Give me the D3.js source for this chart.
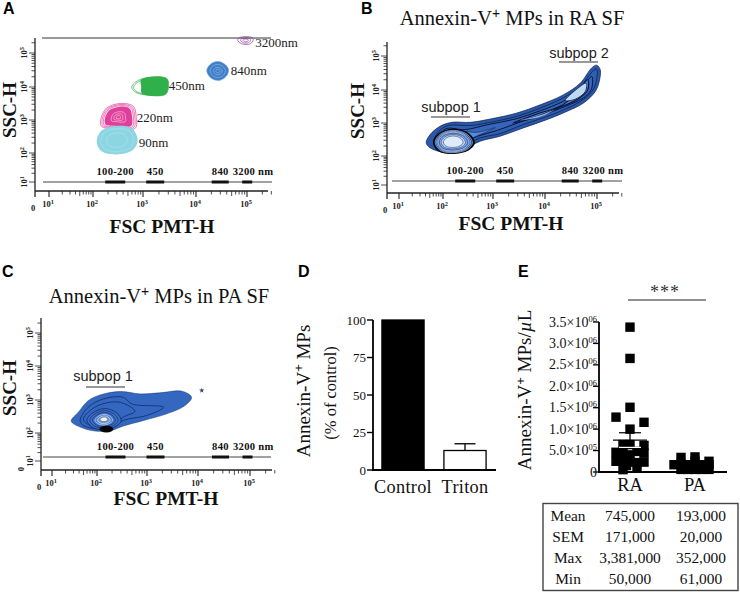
<!DOCTYPE html>
<html><head><meta charset="utf-8">
<script src="https://cdn.jsdelivr.net/npm/d3@7/dist/d3.min.js"></script>
<style>html,body{margin:0;padding:0;background:#fff}svg{display:block}</style>
</head><body><svg id="c" width="740" height="592"></svg>
<script>
// ---------- data ----------
const decades = [10, 100, 1000, 10000, 100000];
const sizeBands = [
  {label:"100-200", from:2.25, to:2.65},
  {label:"450", from:3.07, to:3.43},
  {label:"840", from:4.38, to:4.72},
  {label:"3200 nm", from:4.99, to:5.19}
];
const beads90 = [[2.08,2.35],[2.18,2.68],[2.45,2.82],[2.78,2.75],[2.90,2.40],[2.81,2.10],[2.48,1.95],[2.18,2.05]];
const beads220 = [[2.16,3.0],[2.27,3.35],[2.55,3.5],[2.81,3.42],[2.87,3.1],[2.85,2.75],[2.41,2.75],[2.18,2.8]];
const beads450 = [[2.78,4.0],[2.95,4.22],[3.48,4.25],[3.51,3.95],[3.45,3.77],[3.01,3.77],[2.85,3.85]];
const beads840 = [[4.28,4.48],[4.38,4.70],[4.55,4.74],[4.71,4.55],[4.69,4.35],[4.55,4.2],[4.38,4.25]];
const beads3200 = [[4.90,5.38],[4.95,5.46],[5.18,5.46],[5.21,5.38],[5.15,5.27],[4.98,5.27]];
const beadLabels = [
  {t:"3200nm",x:5.25,y:5.17},{t:"840nm",x:4.76,y:4.35},{t:"450nm",x:3.52,y:3.92},
  {t:"220nm",x:2.88,y:2.93},{t:"90nm",x:2.92,y:2.19}
];
const raOuter = [[1.62,2.40],[1.71,2.65],[1.94,2.90],[2.18,3.02],[2.55,3.02],[2.95,3.12],[3.48,3.30],[3.95,3.55],[4.41,3.85],[4.75,4.20],[4.98,4.65],[5.08,4.73],[5.15,4.60],[5.13,4.25],[5.05,3.95],[4.81,3.60],[4.48,3.35],[4.08,3.10],[3.61,2.85],[3.15,2.60],[2.75,2.45],[2.41,2.20],[2.01,2.12],[1.71,2.25]];
const raLevel2 = [[1.80,2.45],[1.90,2.72],[2.10,2.92],[2.55,2.92],[2.95,3.02],[3.48,3.2],[3.95,3.45],[4.40,3.75],[4.75,4.1],[5.0,4.55],[5.08,4.62],[5.07,4.25],[4.98,3.95],[4.75,3.65],[4.45,3.42],[4.05,3.18],[3.6,2.95],[3.15,2.68],[2.75,2.55],[2.4,2.3],[2.0,2.2]];
const raLevel3 = [[1.90,2.48],[2.05,2.82],[2.45,2.80],[2.9,2.95],[3.45,3.12],[3.95,3.37],[4.40,3.65],[4.75,4.0],[4.98,4.4],[4.98,4.05],[4.85,3.8],[4.45,3.5],[4.0,3.25],[3.55,3.03],[3.1,2.78],[2.7,2.6],[2.35,2.38],[2.0,2.25]];
const raTail = [[2.3,2.72],[2.7,2.72],[3.05,2.86],[2.7,2.62],[2.35,2.42]];
const raMid = [[3.4,3.0],[3.9,3.28],[4.4,3.55],[4.7,3.95],[4.9,4.3],[4.9,4.0],[4.7,3.72],[4.3,3.45],[3.8,3.15]];
const raUpper = [[4.45,3.68],[4.7,4.05],[4.87,4.2],[4.85,3.95],[4.65,3.72]];
const raMidLight = [[3.55,3.08],[3.95,3.24],[4.25,3.42],[3.95,3.18]];
const raCore = [[1.80,2.42],[1.93,2.68],[2.2,2.80],[2.5,2.68],[2.62,2.40],[2.5,2.18],[2.2,2.08],[1.92,2.16]];
const paOuter = [[1.43,2.36],[1.59,2.63],[1.81,2.98],[2.07,3.15],[2.46,3.25],[2.85,3.18],[3.24,3.21],[3.67,3.26],[3.86,3.08],[3.73,2.83],[3.37,2.58],[2.92,2.38],[2.52,2.21],[2.29,2.08],[1.96,2.06],[1.63,2.18]];
const paLevel2 = [[1.63,2.38],[1.81,2.78],[2.13,3.03],[2.52,3.08],[2.69,2.88],[3.31,2.78],[2.98,2.53],[2.52,2.38],[2.33,2.18],[2.0,2.13],[1.7,2.23]];
const paLevel3 = [[1.7,2.4],[1.9,2.73],[2.16,2.9],[2.46,2.93],[2.75,2.66],[2.52,2.48],[2.33,2.21],[2.0,2.16]];
const paCore = [[1.78,2.38],[1.9,2.6],[2.16,2.74],[2.4,2.6],[2.48,2.36],[2.35,2.18],[2.16,2.1],[1.92,2.16]];
const raRingScales = [0.94, 0.86, 0.78, 0.7, 0.6, 0.48];
const raRingFills = ["#1d3f86","#3566bb","#5d8ed6","#8db2e6","#b9d3f2","#deebf9"];

const barCategories = ["Control","Triton"];
const barValues = [100, 13];
const barErrors = [0, 4.5];
const barTicks = [0,25,50,75,100];

const dotCategories = ["RA","PA"];
const raValues = [3380000,2650000,1510000,1280000,1160000,1000000,620000,440000,230000,640000,640000,460000,440000,480000,250000,250000,230000,220000,55000,90000,400000,300000,150000];
const raSlots  = [0,0,0,-2,2,0,2,2,2,-1,0,-2,-1,1,-2,-1,0,1,-1,1,0,-1.5,-0.5];
const paValues = [340000,352000,250000,190000,170000,250000,170000,170000,170000,61000,61000,61000,61000,61000,130000,130000];
const paSlots  = [-2,0,2,-2,-1,0,1,2,-3,-2,-1,0,1,2,-0.7,0.8];
const dotStats = {RA:{mean:745000,sem:171000},PA:{mean:193000,sem:20000}};
const dotTicks = [0,500000,1000000,1500000,2000000,2500000,3000000,3500000];
const dotTickLabels = ["0","5.0×10","1.0×10","1.5×10","2.0×10","2.5×10","3.0×10","3.5×10"];
const dotTickExp = ["","05","06","06","06","06","06","06"];

const tableRows = [
  ["Mean","745,000","193,000"],
  ["SEM","171,000","20,000"],
  ["Max","3,381,000","352,000"],
  ["Min","50,000","61,000"]
];

// ---------- helpers ----------
const svg = d3.select("#c");
const serif = "'Liberation Serif','Times New Roman',serif";
const sans = "'Liberation Sans',Arial,sans-serif";
function txt(g,x,y,s,size,o={}){
  return g.append("text").attr("x",x).attr("y",y).text(s)
    .attr("font-family",o.family||serif).attr("font-size",size)
    .attr("font-weight",o.weight||"normal").attr("text-anchor",o.anchor||"start")
    .attr("fill",o.fill||"#111").attr("letter-spacing",o.ls||null);
}
function pow10Label(g,x,y,exp,size,rot){
  const t=g.append("text").attr("font-family",serif).attr("font-size",size).attr("fill","#222")
    .attr("font-weight","bold").attr("text-anchor","middle")
    .attr("transform",`translate(${x},${y})`+(rot?" rotate(-90)":""));
  t.append("tspan").text("10");
  t.append("tspan").text(exp).attr("font-size",size*0.75).attr("dy",-size*0.4);
}
function titleSup(g,x,y,size,a,b){
  const t=g.append("text").attr("x",x).attr("y",y).attr("font-family",serif).attr("font-size",size)
    .attr("text-anchor","middle").attr("fill","#111");
  t.append("tspan").text(a);
  t.append("tspan").text("+").attr("font-size",size*0.68).attr("dy",-size*0.36).attr("font-family",sans);
  t.append("tspan").text(b).attr("dy",size*0.36);
  return t;
}
function flowPanel(cfg){
  const g=svg.append("g");
  const x=d3.scaleLog().domain(decades).range(cfg.xr);
  const y=d3.scaleLog().domain(decades).range(cfg.yr);
  const px=d3.scaleLinear().domain([1,2,5]).range(cfg.cr);
  const bx=d3.scaleLinear().domain([2,5]).range(cfg.br);
  const py=v=>y(Math.pow(10,v));
  const line=d3.line().x(d=>px(d[0])).y(d=>py(d[1])).curve(d3.curveCatmullRomClosed.alpha(0.5));
  const blob=(pts,fill,stroke,sw)=>g.append("path").attr("d",line(pts)).attr("fill",fill)
    .attr("stroke",stroke||"none").attr("stroke-width",sw||0.7);
  const scaled=(pts,k)=>{const cx=d3.mean(pts,d=>d[0]),cy=d3.mean(pts,d=>d[1]);
    return pts.map(d=>[cx+(d[0]-cx)*k,cy+(d[1]-cy)*k]);};
  cfg.draw({g,px,py,blob,scaled});
  // axes
  const ax=g.append("g").attr("stroke","#222").attr("fill","none");
  ax.append("line").attr("x1",cfg.ox).attr("x2",cfg.ox).attr("y1",cfg.top).attr("y2",cfg.oy).attr("stroke-width",1.3);
  ax.append("line").attr("x1",cfg.ox).attr("x2",cfg.right).attr("y1",cfg.oy).attr("y2",cfg.oy).attr("stroke-width",1.3);
  ax.append("line").attr("x1",cfg.ox).attr("x2",cfg.ox).attr("y1",cfg.oy).attr("y2",cfg.oy+6).attr("stroke-width",1.3);
  decades.forEach(d=>{
    [1,2,3,4,5,6,7,8,9].forEach(m=>{
      const v=d*m; if(v>300000) return;
      const xp=x(v);
      ax.append("line").attr("x1",xp).attr("x2",xp).attr("y1",cfg.oy).attr("y2",cfg.oy+(m==1?6:(m==5?5:3.5))).attr("stroke-width",m==1?1.1:0.8);
      if(v<=200000){const yp=y(v);
        if(yp>cfg.top+1) ax.append("line").attr("x1",cfg.ox).attr("x2",cfg.ox-(m==1?6:3.5)).attr("y1",yp).attr("y2",yp).attr("stroke-width",0.8);}
    });
    const e=Math.round(Math.log10(d));
    pow10Label(g,x(d)-1,cfg.oy+16,e,8.5,false);
    pow10Label(g,cfg.ox-8,y(d),e,8.5,true);
  });
  txt(g,cfg.ox-2,cfg.oy+20,"0",8.5,{weight:"bold",anchor:"middle",fill:"#222"});
  if(cfg.zeroY){txt(g,0,0,"0",8.5,{weight:"bold",anchor:"middle",fill:"#222"}).attr("transform",`translate(${cfg.ox-17},${cfg.oy-1}) rotate(-90)`);}
  // reference line with size bands
  g.append("line").attr("x1",cfg.refX[0]).attr("x2",cfg.refX[1]).attr("y1",cfg.refY).attr("y2",cfg.refY).attr("stroke","#444").attr("stroke-width",1);
  sizeBands.forEach((b,i)=>{
    g.append("rect").attr("x",bx(b.from)).attr("width",bx(b.to)-bx(b.from)).attr("y",cfg.refY-1.5).attr("height",3).attr("fill","#111");
    const mid=(bx(b.from)+bx(b.to))/2;
    if(i==3) txt(g,mid-14.5,cfg.refY-7,b.label,10.6,{weight:"bold",ls:0.3});
    else txt(g,mid,cfg.refY-7,b.label,10.6,{weight:"bold",anchor:"middle",ls:0.3});
  });
  txt(g,cfg.xTitle[0],cfg.xTitle[1],"FSC PMT-H",19.5,{weight:"bold",anchor:"middle"});
  txt(g,0,0,"SSC-H",19,{weight:"bold",anchor:"middle"}).attr("transform",`translate(${cfg.yTitle[0]},${cfg.yTitle[1]}) rotate(-90)`);
  return {g,px,py};
}

// ---------- panel A ----------
flowPanel({ox:35,oy:191,top:38,right:268,xr:[49,93,143,196,247],yr:[182,153,120,87,53],
  cr:[49.3,92.7,242.7],br:[92.7,242.7],
  refX:[43,272],refY:182,xTitle:[162,233],yTitle:[16,110],
  draw(c){
    const pink="#e0409c";
    [1,0.92,0.84].forEach(k=>c.blob(c.scaled(beads220,k),"#fff",pink,0.7));
    c.blob(c.scaled(beads220,0.77),pink);
    [0.4,0.25,0.12].forEach(k=>c.blob(c.scaled(beads220,k),"none","#fbd3e8",0.6));
    c.blob(beads90,"#8ed5e3");
    [0.8,0.5].forEach(k=>c.blob(c.scaled(beads90,k),"none","#b6e6ef",0.5));
    [1,0.9].forEach(k=>c.blob(c.scaled(beads450,k),"#fff","#35a84f",0.7));
    c.blob(beads450.map(d=>[Math.max(d[0],2.97),d[1]]),"#2fb04a");
    c.blob(beads840,"#3f7fc9","#6ea4dc",0.6);
    [0.7,0.4,0.2].forEach(k=>c.blob(c.scaled(beads840,k),"none","#a9c9ec",0.5));
    [1,0.65,0.35].forEach(k=>c.blob(c.scaled(beads3200,k),"none","#a657b4",0.8));
    c.g.append("line").attr("x1",42).attr("x2",271).attr("y1",38).attr("y2",38).attr("stroke","#333").attr("stroke-width",1);
    beadLabels.forEach(l=>txt(c.g,c.px(l.x),c.py(l.y),l.t,13,{fill:"#222"}));
  }});

// ---------- panel B ----------
flowPanel({ox:387,oy:193,top:42,right:619,xr:[399,443,493,545,597],yr:[185,156,123,90,56],
  cr:[399.3,442.7,592.7],br:[442.7,592.7],
  refX:[392,622],refY:181,xTitle:[511,230],yTitle:[364,111],
  draw(c){
    const ln="#0d1f52";
    c.blob(raOuter,"#2b57a7",ln,0.7);
    c.blob(raLevel2,"#2f5fb3",ln,0.8);
    c.blob(raLevel3,"#3566bb","#0a1638",1);
    c.blob(raMid,"#4f83cf","#0a1638",1.1);
    c.blob(raTail,"#5a8bd4",ln,0.6);
    c.blob(raMidLight,"#a9c8ec",ln,0.4);
    c.blob(raUpper,"#c1d8f3","#0a1638",0.8);
    c.blob(c.scaled(raCore,1.06),"#07070f");
    raRingScales.forEach((k,i)=>c.blob(c.scaled(raCore,k),raRingFills[i],i<3?"#dfe9fa":"#14265e",0.5));
    c.g.append("line").attr("x1",431).attr("x2",470).attr("y1",117).attr("y2",117).attr("stroke","#333").attr("stroke-width",1.2);
    c.g.append("line").attr("x1",559).attr("x2",598).attr("y1",62).attr("y2",62).attr("stroke","#333").attr("stroke-width",1.2);
    txt(c.g,451,112,"subpop 1",14.5,{family:sans,anchor:"middle",fill:"#222"});
    txt(c.g,579,58,"subpop 2",14.5,{family:sans,anchor:"middle",fill:"#222"});
  }});
titleSup(svg,512,25,20.5,"Annexin-V"," MPs in RA SF");

// ---------- panel C ----------
flowPanel({ox:41,oy:470,top:318,right:272,xr:[52,97,147,198,250],yr:[461,433,400,366,333],
  cr:[52,96.7,249.7],br:[93,243],
  refX:[43,271],refY:457,xTitle:[166,505],yTitle:[16,388],zeroY:true,
  draw(c){
    const ln="#0f2a6a";
    c.blob(paOuter,"#3468c0",ln,0.5);
    c.blob(paLevel2,"#3468c0",ln,0.8);
    c.blob(paLevel3,"#3468c0",ln,0.8);
    c.blob(paCore,"#3a6dc2",ln,0.8);
    [0.82,0.66].forEach(k=>c.blob(c.scaled(paCore,k),"#3f72c6",ln,0.7));
    c.blob(c.scaled(paCore,0.5),"#4f7fcc","#dde8f6",0.6);
    c.blob(c.scaled(paCore,0.36),"#6f97d6","#dde8f6",0.7);
    c.blob(c.scaled(paCore,0.22).map(d=>[d[0],d[1]+0.02]),"#eef4fb","#555",0.6);
    c.g.append("ellipse").attr("cx",c.px(2.19)).attr("cy",c.py(2.12)).attr("rx",7).attr("ry",3.4).attr("fill","#050505");
    c.g.append("path").attr("d",d3.symbol(d3.symbolStar,9)()).attr("transform",`translate(${c.px(4.06)},${c.py(3.28)})`).attr("fill","#2a3f70");
    c.g.append("line").attr("x1",86).attr("x2",125).attr("y1",387).attr("y2",387).attr("stroke","#333").attr("stroke-width",1.2);
    txt(c.g,103,381,"subpop 1",14.5,{family:sans,anchor:"middle",fill:"#222"});
  }});
titleSup(svg,159,303,20.5,"Annexin-V"," MPs in PA SF");

// ---------- panel D ----------
(function(){
  const g=svg.append("g");
  const y=d3.scaleLinear().domain([0,100]).range([470,320]);
  const x=d3.scaleBand().domain(barCategories).range([372,496]).paddingInner(0.32).paddingOuter(0.16);
  barCategories.forEach((c,i)=>{
    if(barErrors[i]){
      g.append("line").attr("x1",x(c)+x.bandwidth()/2).attr("x2",x(c)+x.bandwidth()/2)
        .attr("y1",y(barValues[i])).attr("y2",y(barValues[i]+barErrors[i])).attr("stroke","#111").attr("stroke-width",1.4);
      g.append("line").attr("x1",x(c)+x.bandwidth()/2-10.5).attr("x2",x(c)+x.bandwidth()/2+10.5)
        .attr("y1",y(barValues[i]+barErrors[i])).attr("y2",y(barValues[i]+barErrors[i])).attr("stroke","#111").attr("stroke-width",1.4);
    }
    g.append("rect").attr("x",x(c)).attr("width",x.bandwidth()).attr("y",y(barValues[i])).attr("height",470-y(barValues[i]))
      .attr("fill",i==0?"#000":"#fff").attr("stroke","#000").attr("stroke-width",1.3);
    txt(g,x(c)+x.bandwidth()/2,493,c,18.3,{anchor:"middle",ls:0.3});
  });
  g.append("line").attr("x1",373).attr("x2",373).attr("y1",320).attr("y2",471).attr("stroke","#000").attr("stroke-width",1.8);
  g.append("line").attr("x1",372).attr("x2",496).attr("y1",470).attr("y2",470).attr("stroke","#000").attr("stroke-width",1.8);
  barTicks.forEach(t=>{
    g.append("line").attr("x1",367).attr("x2",373).attr("y1",y(t)).attr("y2",y(t)).attr("stroke","#000").attr("stroke-width",1.4);
    txt(g,366,y(t)+4.5,t,13,{anchor:"end"});
  });
  const t=titleSup(g,0,0,19,"Annexin-V"," MPs"); t.attr("transform","translate(310,391) rotate(-90)");
  txt(g,0,0,"(% of control)",16.5,{anchor:"middle"}).attr("transform","translate(336,393) rotate(-90)");
})();

// ---------- panel E ----------
(function(){
  const g=svg.append("g");
  const y=d3.scaleLinear().domain([0,3500000]).range([472,322]);
  const x=d3.scalePoint().domain(dotCategories).range([630,695]);
  const slot=7;
  const drawDots=(cat,vals,slots)=>vals.forEach((v,i)=>{
    g.append("rect").attr("x",x(cat)+slots[i]*slot-4.7).attr("y",y(v)-4.7).attr("width",9.4).attr("height",9.4).attr("fill","#000");
  });
  drawDots("RA",raValues,raSlots);
  drawDots("PA",paValues,paSlots);
  dotCategories.forEach(c=>{
    const s=dotStats[c], col=c=="RA"?"#fff":"#000";
    g.append("line").attr("x1",x(c)).attr("x2",x(c)).attr("y1",y(s.mean-s.sem)).attr("y2",y(s.mean+s.sem)).attr("stroke","#000").attr("stroke-width",1.3);
    g.append("line").attr("x1",x(c)-17).attr("x2",x(c)+17).attr("y1",y(s.mean)).attr("y2",y(s.mean)).attr("stroke","#000").attr("stroke-width",1.3);
    [s.mean+s.sem,s.mean-s.sem].forEach((v,i)=>g.append("line").attr("x1",x(c)-11).attr("x2",x(c)+11).attr("y1",y(v)).attr("y2",y(v)).attr("stroke",i==1?col:"#000").attr("stroke-width",1.2));
  });
  g.append("line").attr("x1",599).attr("x2",599).attr("y1",322).attr("y2",473).attr("stroke","#000").attr("stroke-width",1.8);
  g.append("line").attr("x1",598).attr("x2",727).attr("y1",472).attr("y2",472).attr("stroke","#000").attr("stroke-width",1.8);
  dotTicks.forEach((t,i)=>{
    g.append("line").attr("x1",593).attr("x2",599).attr("y1",y(t)).attr("y2",y(t)).attr("stroke","#000").attr("stroke-width",1.3);
    const lab=g.append("text").attr("x",597).attr("y",y(t)+4.5).attr("text-anchor","end").attr("font-family",serif).attr("font-size",14).attr("fill","#111");
    lab.append("tspan").text(dotTickLabels[i]);
    if(dotTickExp[i]) lab.append("tspan").text(dotTickExp[i]).attr("font-size",8.5).attr("dy",-5);
  });
  dotCategories.forEach(c=>txt(g,x(c),491,c,18.5,{anchor:"middle"}));
  const t=g.append("text").attr("transform","translate(531,390) rotate(-90)").attr("text-anchor","middle").attr("font-family",serif).attr("font-size",19).attr("fill","#111");
  t.append("tspan").text("Annexin-V");
  t.append("tspan").text("+").attr("font-size",13).attr("dy",-6).attr("font-family",sans);
  t.append("tspan").text(" MPs/").attr("dy",6);
  t.append("tspan").text("µ").attr("font-style","italic");
  t.append("tspan").text("L");
  g.append("line").attr("x1",628).attr("x2",706).attr("y1",300).attr("y2",300).attr("stroke","#222").attr("stroke-width",1);
  txt(g,665,298,"***",18,{anchor:"middle",fill:"#333",ls:1});
  // table
  g.append("rect").attr("x",543).attr("y",503.5).attr("width",195).attr("height",87).attr("fill","#fff").attr("stroke","#444").attr("stroke-width",1.4);
  const cols=[568,630,701];
  const base=[521,542,563,584];
  tableRows.forEach((r,i)=>r.forEach((s,j)=>txt(g,cols[j],base[i],s,15.4,{anchor:"middle"})));
})();

// ---------- panel letters ----------
[["A",3,14],["B",361,14],["C",2,277],["D",298,277],["E",518,277]].forEach(d=>{
  txt(svg,d[1],d[2],d[0],16,{family:sans,weight:"bold",fill:"#000"});
});
</script></body></html>
